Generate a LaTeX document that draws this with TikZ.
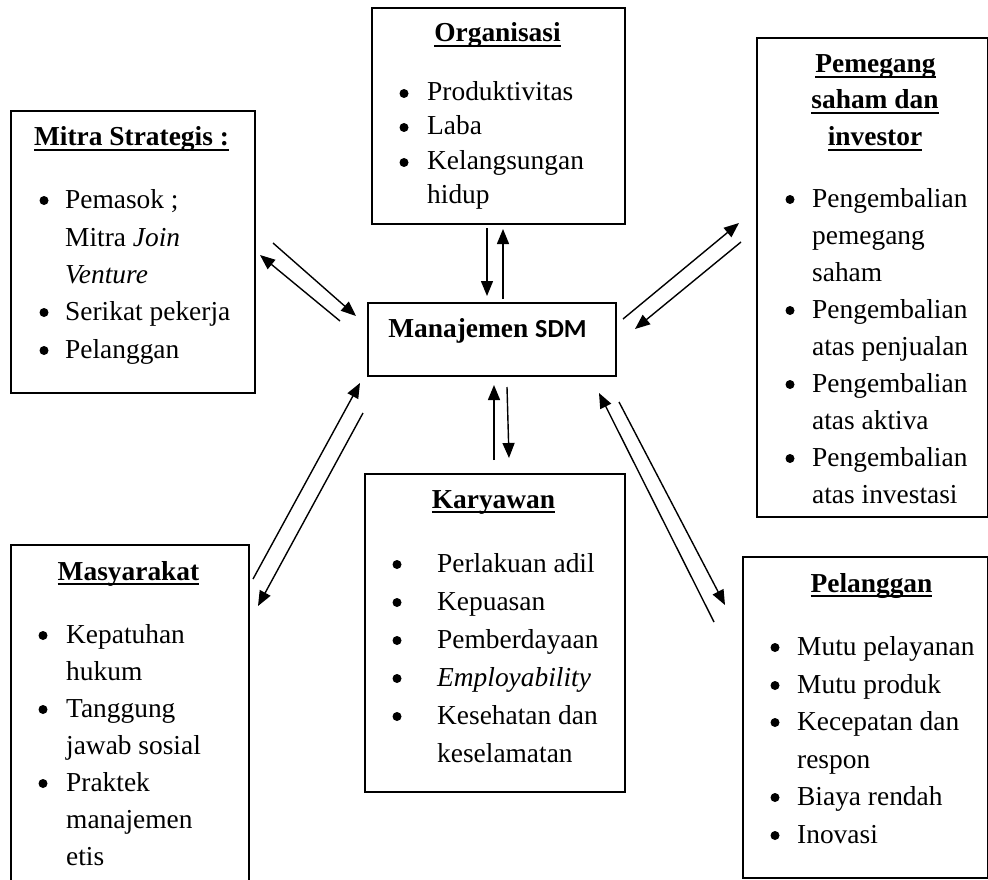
\documentclass[tikz,border=0pt]{standalone}
\usepackage{fontspec}
\setmainfont{Liberation Serif}
\newfontfamily\sdmfont{Carlito}
\usetikzlibrary{arrows.meta}
\newcommand\hdul[1]{\setbox0\hbox{#1}\rlap{\raisebox{-5pt}{\rule{\wd0}{2pt}}}\box0}
\tikzset{
  box/.style={draw, line width=1.8pt, inner sep=0pt, anchor=north west},
  arr/.style={line width=1.4pt, -{Triangle[length=15pt,width=12pt]}},
  txt/.style={anchor=base west, inner sep=0pt},
  hd/.style={anchor=base, inner sep=0pt, font=\bfseries},
  bul/.style={circle, fill, inner sep=0pt, minimum size=9pt},
}
\begin{document}
\begin{tikzpicture}[x=1pt,y=-1pt]
\fontsize{27.4}{37.5}\selectfont
\useasboundingbox (0,0) rectangle (988,880);
\clip (0,0) rectangle (988,880);
% boxes
\node[box, minimum width=253pt, minimum height=216pt] (org) at (371,7) {};
\node[box, minimum width=244pt, minimum height=282pt] (mit) at (10,110) {};
\node[box, minimum width=231pt, minimum height=479pt] (pem) at (756,37) {};
\node[box, minimum width=248pt, minimum height=73pt] (sdm) at (367,302) {};
\node[box, minimum width=238pt, minimum height=360pt] (mas) at (10,544) {};
\node[box, minimum width=260pt, minimum height=318pt] (kar) at (364,473) {};
\node[box, minimum width=245pt, minimum height=321pt] (pel) at (742,556) {};
% Organisasi
\node[hd] (orgh) at (497.5,42) {\hdul{Organisasi}};
\node[bul] (ob1) at (404,93.5) {};
\node[txt] (ot1) at (427,101) {Produktivitas};
\node[bul] (ob2) at (404,127.5) {};
\node[txt] (ot2) at (427,135) {Laba};
\node[bul] (ob3) at (404,162.5) {};
\node[txt] (ot3) at (427,170) {Kelangsungan};
\node[txt] (ot4) at (427,203) {hidup};
% Mitra
\node[hd] (mith) at (131.5,146) {\hdul{Mitra Strategis :}};
\node[bul] (mb1) at (44,200.5) {};
\node[txt] (mt1) at (65,208) {Pemasok ;};
\node[txt] (mt2) at (65,246) {Mitra \textit{Join}};
\node[txt] (mt3) at (65,283) {\textit{Venture}};
\node[bul] (mb2) at (44,312.5) {};
\node[txt] (mt4) at (65,320) {Serikat pekerja};
\node[bul] (mb3) at (44,350.5) {};
\node[txt] (mt5) at (65,358) {Pelanggan};
% Pemegang
\node[hd] (pemh1) at (875.5,73) {\hdul{Pemegang}};
\node[hd] (pemh2) at (875,109) {\hdul{saham dan}};
\node[hd] (pemh3) at (875,146) {\hdul{investor}};
\node[bul] (pb1) at (790,199.5) {};
\node[txt] (pt1) at (812,207) {Pengembalian};
\node[txt] (pt2) at (812,244) {pemegang};
\node[txt] (pt3) at (812,281) {saham};
\node[bul] (pb2) at (790,310.5) {};
\node[txt] (pt4) at (812,318) {Pengembalian};
\node[txt] (pt5) at (812,355) {atas penjualan};
\node[bul] (pb3) at (790,384.5) {};
\node[txt] (pt6) at (812,392) {Pengembalian};
\node[txt] (pt7) at (812,429) {atas aktiva};
\node[bul] (pb4) at (790,458.5) {};
\node[txt] (pt8) at (812,466) {Pengembalian};
\node[txt] (pt9) at (812,503) {atas investasi};
% SDM
\node[hd] (sdmt) at (487.5,337) {Manajemen {\sdmfont\fontsize{26}{26}\selectfont SDM}};
% Masyarakat
\node[hd] (mash) at (128.5,580) {\hdul{Masyarakat}};
\node[bul] (sb1) at (43,635.5) {};
\node[txt] (st1) at (66,643) {Kepatuhan};
\node[txt] (st2) at (66,680) {hukum};
\node[bul] (sb2) at (43,709.5) {};
\node[txt] (st3) at (66,717) {Tanggung};
\node[txt] (st4) at (66,754) {jawab sosial};
\node[bul] (sb3) at (43,783.5) {};
\node[txt] (st5) at (66,791) {Praktek};
\node[txt] (st6) at (66,828) {manajemen};
\node[txt] (st7) at (66,865) {etis};
% Karyawan
\node[hd] (karh) at (493.5,508) {\hdul{Karyawan}};
\node[bul] (kb1) at (397,564.5) {};
\node[txt] (kt1) at (437,572) {Perlakuan adil};
\node[bul] (kb2) at (397,602.5) {};
\node[txt] (kt2) at (437,610) {Kepuasan};
\node[bul] (kb3) at (397,640.5) {};
\node[txt] (kt3) at (437,648) {Pemberdayaan};
\node[bul] (kb4) at (397,678.5) {};
\node[txt] (kt4) at (437,686) {\textit{Employability}};
\node[bul] (kb5) at (397,716.5) {};
\node[txt] (kt5) at (437,724) {Kesehatan dan};
\node[txt] (kt6) at (437,762) {keselamatan};
% Pelanggan
\node[hd] (pelh) at (871.5,592) {\hdul{Pelanggan}};
\node[bul] (lb1) at (775,647.5) {};
\node[txt] (lt1) at (797,655) {Mutu pelayanan};
\node[bul] (lb2) at (775,685.5) {};
\node[txt] (lt2) at (797,693) {Mutu produk};
\node[bul] (lb3) at (775,722.5) {};
\node[txt] (lt3) at (797,730) {Kecepatan dan};
\node[txt] (lt4) at (797,768) {respon};
\node[bul] (lb4) at (775,797.5) {};
\node[txt] (lt5) at (797,805) {Biaya rendah};
\node[bul] (lb5) at (775,835.5) {};
\node[txt] (lt6) at (797,843) {Inovasi};
% connector end points
\coordinate (a1s) at (273,243); \coordinate (a1e) at (356,316);
\coordinate (a2s) at (340,321); \coordinate (a2e) at (260,255);
\coordinate (a3s) at (487,228); \coordinate (a3e) at (487,296);
\coordinate (a4s) at (503,299); \coordinate (a4e) at (503,229);
\coordinate (a5s) at (623,319); \coordinate (a5e) at (739,223);
\coordinate (a6s) at (741,242); \coordinate (a6e) at (635,329);
\coordinate (a7s) at (494,460); \coordinate (a7e) at (494,385);
\coordinate (a8s) at (507,387); \coordinate (a8e) at (509,458);
\coordinate (a9s) at (253,579); \coordinate (a9e) at (360,383);
\coordinate (a10s) at (363,413); \coordinate (a10e) at (258,606);
\coordinate (a11s) at (714,622); \coordinate (a11e) at (599,393);
\coordinate (a12s) at (619,402); \coordinate (a12e) at (725,605);
\draw[arr] (a1s) -- (a1e);
\draw[arr] (a2s) -- (a2e);
\draw[arr] (a3s) -- (a3e);
\draw[arr] (a4s) -- (a4e);
\draw[arr] (a5s) -- (a5e);
\draw[arr] (a6s) -- (a6e);
\draw[arr] (a7s) -- (a7e);
\draw[arr] (a8s) -- (a8e);
\draw[arr] (a9s) -- (a9e);
\draw[arr] (a10s) -- (a10e);
\draw[arr] (a11s) -- (a11e);
\draw[arr] (a12s) -- (a12e);
\end{tikzpicture}
\end{document}
